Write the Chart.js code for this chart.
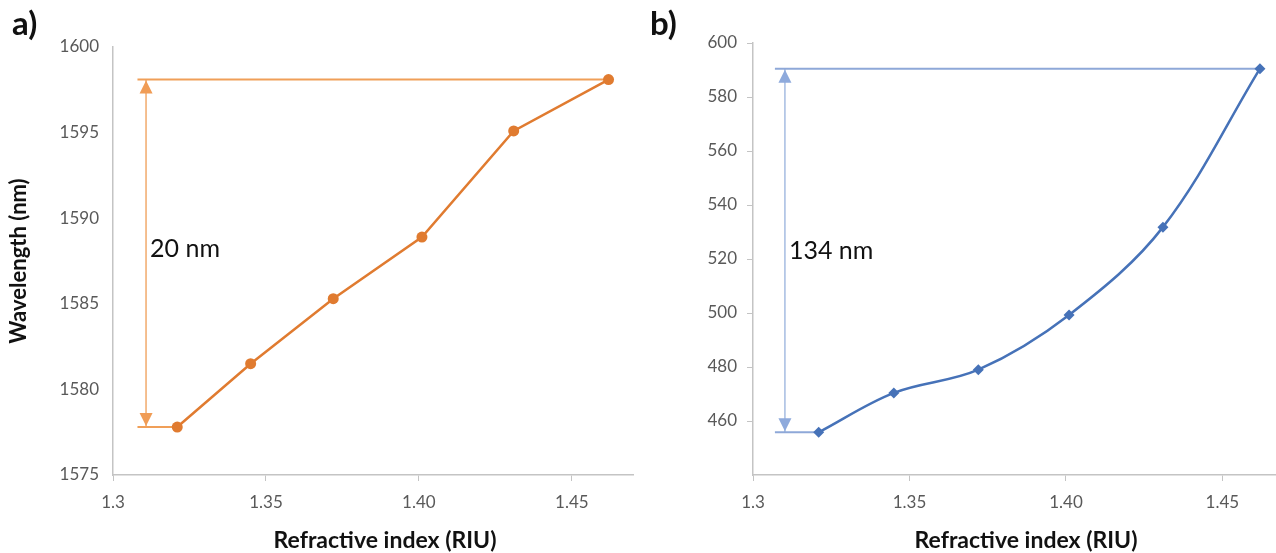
<!DOCTYPE html>
<html>
<head>
<meta charset="utf-8">
<script src="https://cdn.jsdelivr.net/npm/chart.js@4.4.0/dist/chart.umd.min.js"></script>
<style>
  html, body { margin: 0; padding: 0; background: #fff; }
  #wrap { position: relative; width: 1276px; height: 553px; overflow: hidden; }
  .panel { position: absolute; top: 0; width: 660px; height: 553px; }
  .tag { position: absolute; top: 2px; font: bold 33px Lato, sans-serif; color: #111; }
</style>
</head>
<body>
<div id="wrap">
  <div class="panel" style="left:0"><canvas id="chartA"></canvas></div>
  <div class="panel" style="left:640px"><canvas id="chartB"></canvas></div>
  <div class="tag" style="left:12px">a)</div>
  <div class="tag" style="left:650px">b)</div>
</div>
<script>
// Chart data
const riu = [1.321, 1.345, 1.372, 1.401, 1.431, 1.462];
const wavelengthA = [1577.8, 1581.5, 1585.3, 1588.9, 1595.1, 1598.1];
const wavelengthB = [455.8, 470.4, 479, 499.3, 531.8, 590.5];

const xTicks = [1.3, 1.35, 1.4, 1.45];
const xTickLabels = ["1.3", "1.35", "1.40", "1.45"];
const yTicksA = [1575, 1580, 1585, 1590, 1595, 1600];
const yTicksB = [460, 480, 500, 520, 540, 560, 580, 600];

const shiftLabelA = "20 nm";
const shiftLabelB = "134 nm";

Chart.defaults.font.family = "Lato";
Chart.defaults.animation = false;

const AXIS_GRAY = "#c4c4c4";

// arrowheads, shift label and x title drawn over the plot
const overlay = {
  id: "overlay",
  afterDatasetsDraw(chart, args, opts) {
    const { ctx, chartArea, scales } = chart;
    const x = scales.x;
    const y = scales.y;
    const ax = x.getPixelForValue(opts.arrowX);
    const yTop = y.getPixelForValue(opts.top);
    const yBot = y.getPixelForValue(opts.bottom);
    const w = opts.headW / 2;
    const h = opts.headH;

    ctx.save();
    ctx.fillStyle = opts.headColor;
    ctx.beginPath();
    ctx.moveTo(ax, yTop + 1);
    ctx.lineTo(ax - w, yTop + 1 + h);
    ctx.lineTo(ax + w, yTop + 1 + h);
    ctx.closePath();
    ctx.fill();
    ctx.beginPath();
    ctx.moveTo(ax, yBot - 1);
    ctx.lineTo(ax - w, yBot - 1 - h);
    ctx.lineTo(ax + w, yBot - 1 - h);
    ctx.closePath();
    ctx.fill();

    ctx.fillStyle = "#111";
    ctx.font = "25px Lato";
    ctx.textAlign = "left";
    ctx.textBaseline = "middle";
    ctx.fillText(opts.label, ax + 4, y.getPixelForValue(opts.labelY));

    ctx.font = "bold 23px Lato";
    ctx.textAlign = "center";
    ctx.fillText(
      "Refractive index (RIU)",
      (chartArea.left + chartArea.right) / 2 + opts.titleShift,
      541
    );
    ctx.restore();
  },
};

function fixedTicks(values) {
  return (scale) => {
    scale.ticks = values.map((v) => ({ value: v }));
  };
}

function makeChart(id, values, opts) {
  const last = values.length - 1;
  const top = values[last];
  const bottom = values[0];
  const ctx = document.getElementById(id).getContext("2d");
  return new Chart(ctx, {
    type: "line",
    data: {
      datasets: [
        {
          data: riu.map((r, i) => ({ x: r, y: values[i] })),
          borderColor: opts.lineColor,
          backgroundColor: opts.lineColor,
          borderWidth: 2.5,
          pointStyle: opts.pointStyle,
          pointRadius: opts.pointRadius,
          pointBorderWidth: 0,
          tension: opts.tension,
        },
        {
          // top bracket
          data: [
            { x: opts.bracketStart, y: top },
            { x: riu[last], y: top },
          ],
          borderColor: opts.noteColor,
          borderWidth: 2,
          pointRadius: 0,
        },
        {
          // bottom bracket
          data: [
            { x: opts.bracketStart, y: bottom },
            { x: riu[0], y: bottom },
          ],
          borderColor: opts.noteColor,
          borderWidth: 2,
          pointRadius: 0,
        },
        {
          // arrow shaft
          data: [
            { x: opts.arrowX, y: top },
            { x: opts.arrowX, y: bottom },
          ],
          borderColor: opts.shaftColor,
          borderWidth: 1.5,
          pointRadius: 0,
        },
      ],
    },
    options: {
      responsive: true,
      maintainAspectRatio: false,
      layout: {
        padding: { left: 0, right: opts.padRight, top: opts.padTop, bottom: 0 },
      },
      plugins: {
        legend: { display: false },
        tooltip: { enabled: false },
        overlay: {
          arrowX: opts.arrowX,
          top: top,
          bottom: bottom,
          headW: 13,
          headH: 13,
          headColor: opts.headColor,
          label: opts.label,
          labelY: opts.labelY,
          titleShift: opts.titleShift,
        },
      },
      scales: {
        x: {
          type: "linear",
          min: 1.3,
          max: 1.47,
          afterBuildTicks: fixedTicks(xTicks),
          afterFit: (scale) => {
            scale.height = 78;
          },
          border: { color: AXIS_GRAY, width: 1.5 },
          grid: {
            display: true,
            drawOnChartArea: false,
            drawTicks: true,
            tickLength: 6,
            color: AXIS_GRAY,
          },
          ticks: {
            color: "#595959",
            font: { size: 17 },
            padding: 11,
            maxRotation: 0,
            callback: (v) => xTickLabels[xTicks.indexOf(v)],
          },
        },
        y: {
          type: "linear",
          min: opts.yMin,
          max: opts.yMax,
          afterBuildTicks: fixedTicks(opts.yTicks),
          afterFit: (scale) => {
            scale.width = 113;
          },
          border: { color: AXIS_GRAY, width: 1.5 },
          grid: {
            display: true,
            drawOnChartArea: false,
            drawTicks: opts.yTickMarks,
            tickLength: 6,
            color: AXIS_GRAY,
          },
          ticks: {
            color: "#595959",
            font: { size: 17 },
            padding: opts.yTickMarks ? 10 : 14,
            callback: (v) => String(v),
          },
          title: {
            display: opts.yTitle !== "",
            text: opts.yTitle,
            color: "#111",
            font: { size: 22, weight: "bold" },
            padding: { top: 6, bottom: 0 },
          },
        },
      },
    },
    plugins: [overlay],
  });
}

makeChart("chartA", wavelengthA, {
  lineColor: "#e07b30",
  noteColor: "#f09f58",
  shaftColor: "#f2ab6c",
  headColor: "#f09c55",
  pointStyle: "circle",
  pointRadius: 5.5,
  tension: 0,
  bracketStart: 1.308,
  arrowX: 1.3108,
  label: shiftLabelA,
  labelY: 1588.2,
  padTop: 47,
  padRight: 27,
  yMin: 1575,
  yMax: 1600,
  yTicks: yTicksA,
  yTickMarks: false,
  yTitle: "Wavelength (nm)",
  titleShift: 12,
});

makeChart("chartB", wavelengthB, {
  lineColor: "#4672b8",
  noteColor: "#8ea8d8",
  shaftColor: "#a6bce2",
  headColor: "#8eaadc",
  pointStyle: "rectRot",
  pointRadius: 5.5,
  tension: 0.35,
  bracketStart: 1.307,
  arrowX: 1.3102,
  label: shiftLabelB,
  labelY: 523,
  padTop: 43,
  padRight: 15,
  yMin: 440,
  yMax: 600,
  yTicks: yTicksB,
  yTickMarks: true,
  yTitle: "",
  titleShift: 7,
});
</script>
</body>
</html>
